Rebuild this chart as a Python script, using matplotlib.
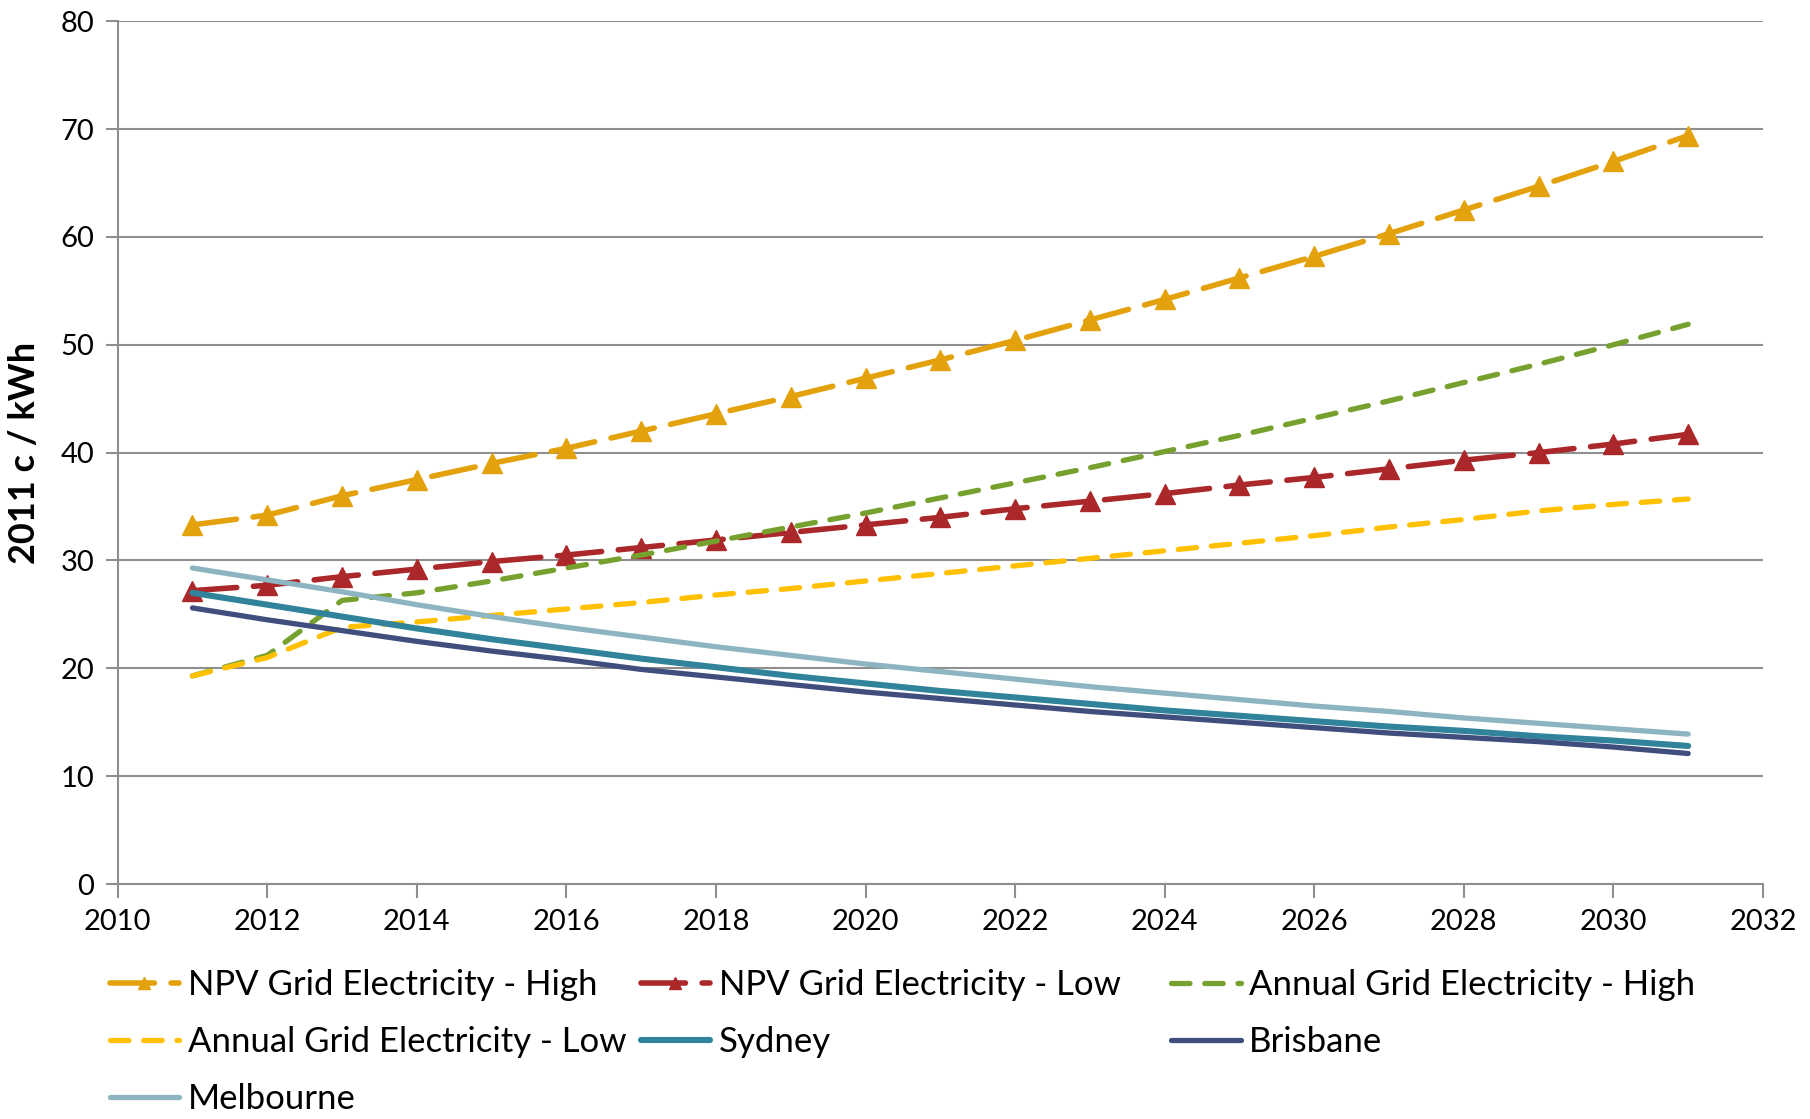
import matplotlib.pyplot as plt

plt.rcParams['font.family'] = ['Lato', 'DejaVu Sans']

years = list(range(2011, 2032))

npv_high = [33.3, 34.2, 36.0, 37.5, 39.0, 40.4, 42.0, 43.6, 45.2, 46.9, 48.6,
            50.4, 52.3, 54.2, 56.2, 58.2, 60.3, 62.5, 64.7, 67.0, 69.4]
npv_low = [27.2, 27.7, 28.5, 29.2, 29.9, 30.5, 31.2, 31.9, 32.6, 33.3, 34.0,
           34.8, 35.5, 36.2, 37.0, 37.7, 38.5, 39.3, 40.0, 40.8, 41.7]
annual_high = [19.3, 21.2, 26.3, 27.0, 28.1, 29.3, 30.5, 31.8, 33.1, 34.4, 35.8,
               37.2, 38.6, 40.1, 41.6, 43.2, 44.8, 46.5, 48.2, 50.0, 51.9]
annual_low = [19.3, 21.0, 23.8, 24.3, 24.9, 25.5, 26.1, 26.8, 27.4, 28.1, 28.8,
              29.5, 30.2, 30.9, 31.6, 32.3, 33.1, 33.8, 34.6, 35.2, 35.7]
sydney = [27.0, 25.9, 24.8, 23.7, 22.7, 21.8, 20.9, 20.1, 19.3, 18.6, 17.9,
          17.3, 16.7, 16.1, 15.6, 15.1, 14.6, 14.2, 13.7, 13.3, 12.8]
brisbane = [25.6, 24.5, 23.5, 22.5, 21.6, 20.8, 19.9, 19.2, 18.5, 17.8, 17.2,
            16.6, 16.0, 15.5, 15.0, 14.5, 14.0, 13.6, 13.2, 12.7, 12.1]
melbourne = [29.3, 28.2, 27.1, 25.9, 24.8, 23.8, 22.9, 22.0, 21.2, 20.4, 19.7,
             19.0, 18.3, 17.7, 17.1, 16.5, 16.0, 15.4, 14.9, 14.4, 13.9]

fig = plt.figure(figsize=(18.1, 11.19), dpi=100)
ax = fig.add_axes([0.065, 0.21, 0.909, 0.771])

grid_col = '#8f8f8f'

# series com marcadores triangulares
h1, = ax.plot(years, npv_high, color='#E3A20C', lw=4.0, dashes=(8, 3),
              dash_capstyle='round', marker='^', ms=15, label='NPV Grid Electricity - High', zorder=3)
h2, = ax.plot(years, npv_low, color='#AB282A', lw=4.0, dashes=(8, 3),
              dash_capstyle='round', marker='^', ms=15, label='NPV Grid Electricity - Low', zorder=4)
# series tracejadas
h3, = ax.plot(years, annual_high, color='#76A12E', lw=3.8, dashes=(3.5, 2.8),
              dash_capstyle='round', label='Annual Grid Electricity - High', zorder=5)
h4, = ax.plot(years, annual_low, color='#FFC000', lw=3.8, dashes=(3.5, 2.8),
              dash_capstyle='round', label='Annual Grid Electricity - Low', zorder=6)
# cidades
h5, = ax.plot(years, sydney, color='#30839A', lw=4.4, solid_capstyle='round',
              label='Sydney', zorder=7)
h6, = ax.plot(years, brisbane, color='#3F4E7D', lw=3.8, solid_capstyle='round',
              label='Brisbane', zorder=8)
h7, = ax.plot(years, melbourne, color='#8DB4C1', lw=3.8, solid_capstyle='round',
              label='Melbourne', zorder=9)

ax.set_xlim(2010, 2032)
ax.set_ylim(0, 80)
ax.set_xticks(range(2010, 2033, 2))
ax.set_yticks(range(0, 81, 10))
ax.yaxis.grid(True, color=grid_col, lw=1.5)
ax.set_axisbelow(True)
for s in ['top', 'right']:
    ax.spines[s].set_visible(False)
for s in ['left', 'bottom']:
    ax.spines[s].set_color(grid_col)
    ax.spines[s].set_linewidth(1.5)
ax.tick_params(axis='x', length=10, width=1.5, color=grid_col, labelsize=21, pad=8)
ax.tick_params(axis='y', length=9, width=1.5, color=grid_col, labelsize=21, pad=8)
ax.set_ylabel('2011 c / kWh', fontsize=26, fontweight='bold', labelpad=14)

# legenda em tres colunas, cada uma posicionada separadamente
columns = [[h1, h4, h7], [h2, h5], [h3, h6]]
col_x = [0.0606, 0.354, 0.647]
for hs, x in zip(columns, col_x):
    leg = fig.legend(handles=hs, labels=[h.get_label() for h in hs],
                     loc='upper left', bbox_to_anchor=(x, 0.134), frameon=False,
                     fontsize=25, handlelength=2.0, handletextpad=0.25,
                     labelspacing=0.72, borderaxespad=0, borderpad=0, markerscale=0.6)

fig.savefig('out.png', dpi=100)
